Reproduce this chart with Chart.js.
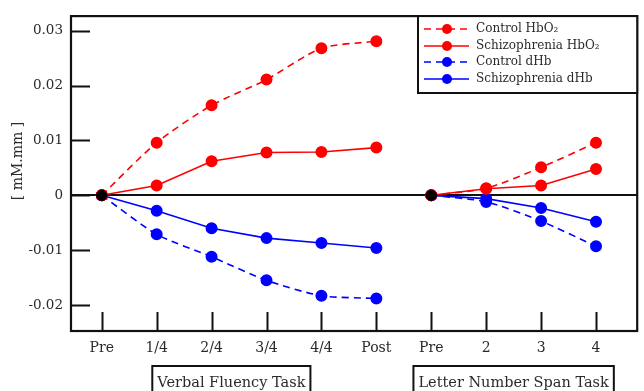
<!DOCTYPE html>
<html>
<head>
<meta charset="utf-8">
<script src="https://cdn.jsdelivr.net/npm/chart.js@4.4.1/dist/chart.umd.min.js"></script>
<style>
  html, body { margin: 0; padding: 0; background: #fff; }
  #wrap { width: 644px; height: 391px; position: relative; }
</style>
</head>
<body>
<div id="wrap"><canvas id="c" width="644" height="391"></canvas></div>
<script>
// ---- data ----
const xLabels = ['Pre', '1/4', '2/4', '3/4', '4/4', 'Post', 'Pre', '2', '3', '4'];
const taskLabels = ['Verbal Fluency Task', 'Letter Number Span Task'];
const yTickValues = [-0.02, -0.01, 0, 0.01, 0.02, 0.03];
const yTickLabels = ['-0.02', '-0.01', '0', '0.01', '0.02', '0.03'];
const seriesNames = ['Control HbO\u2082', 'Schizophrenia HbO\u2082', 'Control dHb', 'Schizophrenia dHb'];

const controlHbO2_VF = [0, 0.0096, 0.0164, 0.0211, 0.0268, 0.0281];
const schizHbO2_VF   = [0, 0.0018, 0.0062, 0.0078, 0.0079, 0.0087];
const controlDHb_VF  = [0, -0.0071, -0.0112, -0.0155, -0.0183, -0.0188];
const schizDHb_VF    = [0, -0.0028, -0.0060, -0.0078, -0.0087, -0.0096];

const controlHbO2_LNS = [0, 0.0013, 0.0051, 0.0096];
const schizHbO2_LNS   = [0, 0.0012, 0.0018, 0.0048];
const controlDHb_LNS  = [0, -0.0012, -0.0047, -0.0093];
const schizDHb_LNS    = [0, -0.0006, -0.0023, -0.0048];

// ---- build ----
const FONT = '"DejaVu Serif", "Liberation Serif", serif';
const TXT = '#2a2a2a';
const vfCount = controlHbO2_VF.length;
function buildPoints(vf, lns) {
  const pts = vf.map((v, i) => ({ x: i, y: v }));
  pts.push({ x: vfCount - 0.5, y: null });
  lns.forEach((v, i) => pts.push({ x: vfCount + i, y: v }));
  return pts;
}
const RED = '#ff0000', BLUE = '#0000ff';
const seriesDefs = [
  { name: seriesNames[0], vf: controlHbO2_VF, lns: controlHbO2_LNS, color: RED, dash: [7, 5] },
  { name: seriesNames[1], vf: schizHbO2_VF, lns: schizHbO2_LNS, color: RED, dash: [] },
  { name: seriesNames[2], vf: controlDHb_VF, lns: controlDHb_LNS, color: BLUE, dash: [7, 5] },
  { name: seriesNames[3], vf: schizDHb_VF, lns: schizDHb_LNS, color: BLUE, dash: [] },
];
const datasets = seriesDefs.map((s, k) => ({
  label: s.name,
  data: buildPoints(s.vf, s.lns),
  borderColor: s.color,
  backgroundColor: s.color,
  pointBackgroundColor: s.color,
  pointBorderColor: s.color,
  pointRadius: 5.2,
  pointHoverRadius: 5.2,
  borderWidth: 1.6,
  borderDash: s.dash,
  tension: s.dash.length ? 0.25 : 0,
  spanGaps: false,
  order: 2 + k,
}));
// black baseline ("Pre") points on top
datasets.push({
  label: 'Pre',
  data: [{ x: 0, y: controlHbO2_VF[0] }, { x: vfCount, y: controlHbO2_LNS[0] }],
  showLine: false,
  pointRadius: 5.2,
  pointBackgroundColor: '#000',
  pointBorderColor: '#000',
  order: 0,
});

const decor = {
  id: 'decor',
  afterDraw(chart) {
    const { ctx, chartArea: a, scales: { x, y } } = chart;
    ctx.save();
    ctx.strokeStyle = '#111';
    // inward ticks
    ctx.lineWidth = 2;
    ctx.beginPath();
    yTickValues.forEach(v => {
      const py = Math.round(y.getPixelForValue(v)) + 0.5;
      ctx.moveTo(a.left, py); ctx.lineTo(a.left + 19, py);
    });
    xLabels.forEach((_, i) => {
      const px = Math.round(x.getPixelForValue(i)) + 0.5;
      ctx.moveTo(px, a.bottom); ctx.lineTo(px, a.bottom - 19);
    });
    ctx.stroke();
    // frame
    ctx.lineWidth = 2.2;
    ctx.strokeRect(a.left, a.top, a.right - a.left, a.bottom - a.top);

    // y title
    ctx.fillStyle = TXT;
    ctx.font = '14px ' + FONT;
    ctx.translate(18, 161);
    ctx.rotate(-Math.PI / 2);
    ctx.textAlign = 'center';
    ctx.textBaseline = 'middle';
    ctx.fillText('[ mM.mm ]', 0, 0);
    ctx.setTransform(1, 0, 0, 1, 0, 0);

    // legend box
    const lx0 = 418, ly0 = a.top, lx1 = a.right, ly1 = 93;
    ctx.fillStyle = '#fff';
    ctx.fillRect(lx0, ly0, lx1 - lx0, ly1 - ly0);
    ctx.lineWidth = 2;
    ctx.strokeStyle = '#111';
    ctx.strokeRect(lx0, ly0, lx1 - lx0, ly1 - ly0);
    const rowsY = [29, 46, 62, 79];
    seriesDefs.forEach((s, i) => {
      const ry = rowsY[i];
      ctx.strokeStyle = s.color;
      ctx.lineWidth = 1.6;
      ctx.setLineDash(s.dash);
      ctx.beginPath(); ctx.moveTo(424, ry); ctx.lineTo(469, ry); ctx.stroke();
      ctx.setLineDash([]);
      ctx.fillStyle = s.color;
      ctx.beginPath(); ctx.arc(447, ry, 5, 0, Math.PI * 2); ctx.fill();
      ctx.fillStyle = TXT;
      ctx.font = '12px ' + FONT;
      ctx.textAlign = 'left';
      ctx.textBaseline = 'middle';
      ctx.fillText(s.name, 476, ry);
    });

    // task boxes
    ctx.font = '14.5px ' + FONT;
    ctx.textBaseline = 'alphabetic';
    ctx.textAlign = 'center';
    const centers = [x.getPixelForValue(2.36), x.getPixelForValue(7.5)];
    taskLabels.forEach((t, i) => {
      const w = ctx.measureText(t).width + 10;
      const cx = centers[i];
      ctx.strokeStyle = '#111';
      ctx.lineWidth = 2;
      ctx.strokeRect(cx - w / 2, 366, w, 40);
      ctx.fillStyle = TXT;
      ctx.fillText(t, cx, 387);
    });
    ctx.restore();
  }
};

new Chart(document.getElementById('c'), {
  type: 'line',
  data: { datasets },
  options: {
    responsive: false,
    animation: false,
    layout: { padding: { top: 13, right: 3, left: 0, bottom: 0 } },
    plugins: { legend: { display: false }, tooltip: { enabled: false } },
    scales: {
      x: {
        type: 'linear',
        min: -0.56, max: 9.75,
        afterBuildTicks: s => { s.ticks = xLabels.map((_, i) => ({ value: i })); },
        afterFit: s => { s.height = 60; },
        ticks: {
          callback: v => xLabels[v],
          font: { family: FONT, size: 14 }, color: TXT,
          padding: 9, maxRotation: 0, autoSkip: false,
        },
        grid: { display: false, drawTicks: false },
        border: { display: false },
      },
      y: {
        type: 'linear',
        min: -0.02473, max: 0.03267,
        afterBuildTicks: s => { s.ticks = yTickValues.map(v => ({ value: v })); },
        afterFit: s => { s.width = 71; },
        ticks: {
          callback: (v, i) => yTickLabels[i],
          font: { family: FONT, size: 13.5 }, color: TXT,
          padding: 8,
        },
        grid: {
          drawTicks: false,
          color: c => (c.tick && c.tick.value === 0 ? '#111' : 'rgba(0,0,0,0)'),
          lineWidth: c => (c.tick && c.tick.value === 0 ? 2 : 0),
        },
        border: { display: false },
      }
    }
  },
  plugins: [decor]
});
</script>
</body>
</html>
